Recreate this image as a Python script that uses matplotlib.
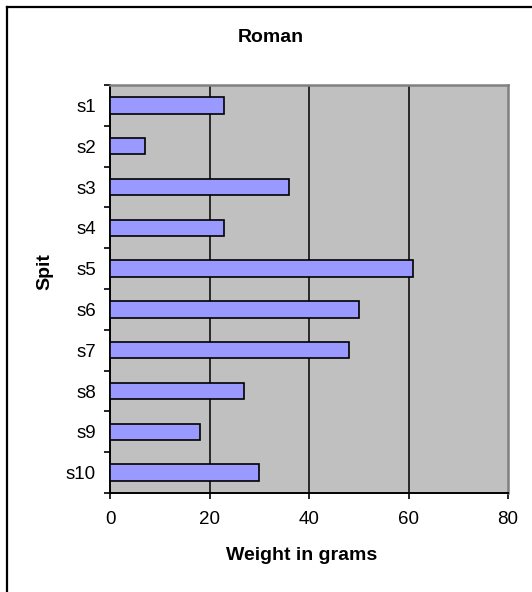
import matplotlib
matplotlib.use("Agg")
import matplotlib.pyplot as plt
from matplotlib.lines import Line2D

categories = ["s1", "s2", "s3", "s4", "s5", "s6", "s7", "s8", "s9", "s10"]
weights = [23, 7, 36, 23, 61, 50, 48, 27, 18, 30]
xticks = [0, 20, 40, 60, 80]
title = "Roman"
xlabel = "Weight in grams"
ylabel = "Spit"

plt.rcParams['font.family'] = ['Liberation Sans', 'DejaVu Sans']

W, H = 532, 592
fig = plt.figure(figsize=(W / 100, H / 100), dpi=100)
ax = fig.add_axes([110 / W, 1 - 493 / H, 398 / W, 408 / H])
ax.set_facecolor("#C0C0C0")

pos = list(range(len(categories)))
ax.barh(pos, weights, height=0.4, color="#9999FF", edgecolor="black", linewidth=1.2, zorder=3)

ax.set_xlim(0, 80)
ax.set_ylim(len(categories) - 0.5, -0.5)
ax.set_xticks(xticks)
ax.set_xticklabels([str(v) for v in xticks], fontsize=13.5)
for v in xticks[1:-1]:
    ax.axvline(v, color="black", linewidth=1.1, zorder=1)

ax.set_yticks([p - 0.5 for p in pos] + [len(categories) - 0.5])
ax.set_yticklabels([])
ax.set_yticks(pos, minor=True)
ax.set_yticklabels(categories, minor=True, fontsize=13.5)
ax.tick_params(axis="y", which="minor", length=0, pad=10)
ax.tick_params(axis="y", which="major", length=4, width=1.2, direction="out")
ax.tick_params(axis="x", length=4, width=1.2, direction="out", pad=9)

for s in ["top", "right"]:
    ax.spines[s].set_color("#808080")
    ax.spines[s].set_linewidth(1.8)
for s in ["left", "bottom"]:
    ax.spines[s].set_color("black")
    ax.spines[s].set_linewidth(1.4)

fig.text(270.5 / W, 1 - 38 / H, title, ha="center", va="center", fontsize=14, fontweight="bold")
fig.text(302 / W, 1 - 555 / H, xlabel, ha="center", va="center", fontsize=14, fontweight="bold")
fig.text(45 / W, 1 - 272 / H, ylabel, ha="center", va="center", rotation=90, fontsize=14, fontweight="bold")

fig.add_artist(Line2D([7 / W, 7 / W], [0, 1 - 7 / H], color="black", linewidth=1.6, transform=fig.transFigure))
fig.add_artist(Line2D([7 / W, 1], [1 - 7 / H, 1 - 7 / H], color="black", linewidth=1.6, transform=fig.transFigure))

fig.savefig("out.png", dpi=100)
